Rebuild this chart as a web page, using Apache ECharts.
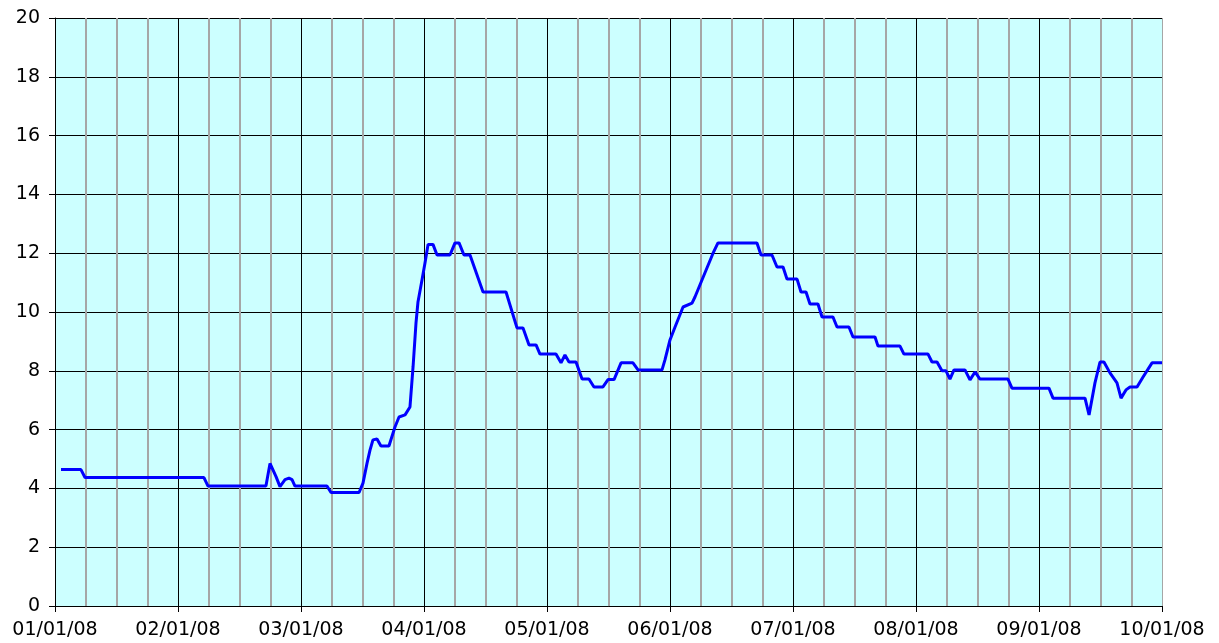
<!DOCTYPE html>
<html>
<head>
<meta charset="utf-8">
<script src="https://cdn.jsdelivr.net/npm/echarts@6/dist/echarts.min.js"></script>
<style>
html,body{margin:0;padding:0;background:#fff;}
#chart{width:1219px;height:643px;}
</style>
</head>
<body>
<div id="chart"></div>
<script>
// Tick labels (one per month boundary)
const monthLabels = ['01/01/08','02/01/08','03/01/08','04/01/08','05/01/08','06/01/08','07/01/08','08/01/08','09/01/08','10/01/08'];
// Y tick range
const yMin = 0, yMax = 20, yStep = 2;
// Positions along the time axis, in months since 01/01/08
const xMonths = [
  0.049,0.211,0.244,1.211,1.244,1.715,1.748,1.797,1.829,1.870,1.902,1.927,1.951,
  2.211,2.244,2.472,2.504,2.537,2.561,2.585,2.618,2.650,2.715,2.764,2.797,2.846,2.886,
  2.911,2.935,2.951,2.984,3.008,3.033,3.073,3.106,3.211,3.252,3.285,3.325,3.374,3.480,3.667,3.756,3.805,3.854,3.911,3.943,
  4.073,4.114,4.146,4.179,4.236,4.285,4.341,4.382,4.455,4.496,4.545,4.602,4.699,4.740,4.935,
  4.959,5.000,5.041,5.106,5.179,5.203,5.260,5.350,5.390,5.707,5.740,5.829,5.870,5.919,5.951,
  6.033,6.065,6.106,6.138,6.203,6.236,6.325,6.358,6.455,6.488,6.667,6.691,6.870,6.902,
  7.098,7.130,7.171,7.211,7.244,7.276,7.309,7.398,7.439,7.480,7.520,7.748,7.780,
  8.081,8.114,8.374,8.407,8.455,8.496,8.528,8.577,8.634,8.667,8.707,8.740,8.797,8.846,8.919,9.000
];
// Measured values
const values = [
  4.64,4.64,4.37,4.37,4.08,4.08,4.85,4.40,4.06,4.30,4.35,4.30,4.08,
  4.08,3.86,3.86,4.18,4.86,5.30,5.65,5.68,5.44,5.44,6.09,6.43,6.50,6.77,
  8.13,9.63,10.34,11.10,11.67,12.30,12.30,11.94,11.94,12.35,12.35,11.94,11.94,10.68,10.68,9.46,9.46,8.88,8.88,8.57,
  8.57,8.27,8.54,8.30,8.30,7.72,7.72,7.45,7.45,7.70,7.70,8.27,8.27,8.03,8.03,
  8.37,9.05,9.49,10.17,10.30,10.51,11.09,12.00,12.35,12.35,11.94,11.94,11.53,11.53,11.12,
  11.12,10.68,10.68,10.27,10.27,9.83,9.83,9.49,9.49,9.15,9.15,8.84,8.84,8.57,
  8.57,8.30,8.30,8.00,8.00,7.72,8.03,8.03,7.69,7.96,7.72,7.72,7.41,
  7.41,7.07,7.07,6.50,7.59,8.30,8.30,7.93,7.59,7.07,7.35,7.45,7.45,7.79,8.27,8.27
];

const seriesData = xMonths.map((x, i) => [x, values[i]]);
const vLineColors = monthLabels.map((_, i) => i === monthLabels.length - 1 ? '#a6a6a6' : '#000000');

const chart = echarts.init(document.getElementById('chart'), null, {renderer: 'canvas'});
chart.setOption({
  animation: false,
  backgroundColor: '#ffffff',
  textStyle: {fontFamily: 'DejaVu Sans'},
  grid: {
    left: 55, right: 57, top: 18, bottom: 37,
    show: true, backgroundColor: '#CCFFFF', borderWidth: 0
  },
  xAxis: {
    type: 'value',
    min: 0, max: monthLabels.length - 1, interval: 1,
    axisLine: {show: true, lineStyle: {color: '#000', width: 1}},
    axisTick: {show: true, length: 6, lineStyle: {color: '#000'}},
    axisLabel: {
      show: true, margin: 15, color: '#000', fontSize: 19, fontFamily: 'DejaVu Sans',
      formatter: v => monthLabels[Math.round(v)]
    },
    splitLine: {show: true, lineStyle: {color: vLineColors, width: 1}},
    minorTick: {show: false, splitNumber: 4},
    minorSplitLine: {show: true, lineStyle: {color: '#a6a6a6', width: 2}}
  },
  yAxis: {
    type: 'value',
    min: yMin, max: yMax, interval: yStep,
    axisLine: {show: true, lineStyle: {color: '#000', width: 1}},
    axisTick: {show: true, length: 6, lineStyle: {color: '#000'}},
    axisLabel: {show: true, margin: 15, color: '#000', fontSize: 19, fontFamily: 'DejaVu Sans'},
    splitLine: {show: true, lineStyle: {color: '#000', width: 1}}
  },
  series: [{
    type: 'line',
    data: seriesData,
    showSymbol: false,
    smooth: false,
    lineStyle: {color: '#0000FF', width: 3},
    z: 5
  }]
});
</script>
</body>
</html>
